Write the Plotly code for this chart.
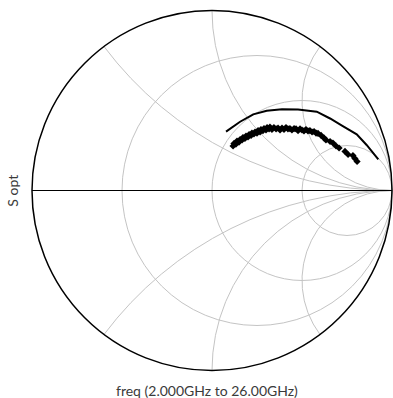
import numpy as np
import plotly.graph_objects as go

# Optimum source reflection coefficient (Sopt), measured, 2-26 GHz
meas_re = [0.117, 0.122, 0.133, 0.139, 0.150, 0.156, 0.167, 0.172, 0.183, 0.189,
           0.200, 0.206, 0.217, 0.222, 0.233, 0.239, 0.250, 0.256, 0.267, 0.272,
           0.283, 0.289, 0.300, 0.306, 0.317, 0.322, 0.333,
           0.344, 0.356, 0.367, 0.378, 0.389, 0.400, 0.411, 0.422, 0.433, 0.444,
           0.456, 0.467, 0.478, 0.489, 0.500, 0.511, 0.522, 0.533, 0.544, 0.556,
           0.567, 0.578,
           0.589, 0.606, 0.622, 0.633, 0.656, 0.672, 0.689, 0.706, 0.739, 0.756,
           0.783, 0.794, 0.806]
meas_im = [0.247, 0.261, 0.258, 0.275, 0.269, 0.283, 0.281, 0.294, 0.289, 0.303,
           0.297, 0.311, 0.306, 0.319, 0.314, 0.325, 0.319, 0.333, 0.325, 0.339,
           0.333, 0.344, 0.336, 0.350, 0.342, 0.353, 0.339,
           0.350, 0.342, 0.347, 0.336, 0.347, 0.339, 0.350, 0.342, 0.344, 0.336,
           0.344, 0.342, 0.333, 0.342, 0.336, 0.331, 0.339, 0.331, 0.333, 0.325,
           0.328, 0.319,
           0.317, 0.306, 0.292, 0.281, 0.272, 0.264, 0.247, 0.236, 0.217, 0.200,
           0.194, 0.178, 0.161]

# Optimum source reflection coefficient, model
model_re = [0.078, 0.156, 0.229, 0.304, 0.389, 0.478, 0.582, 0.656, 0.722, 0.804, 0.859, 0.924]
model_im = [0.327, 0.382, 0.423, 0.443, 0.451, 0.450, 0.438, 0.400, 0.361, 0.312, 0.253, 0.173]

# Smith chart grid values (the 1000 entries carry the arcs/circles out to the edge)
resistance_grid = [1 / 3, 1, 3, 1000]
reactance_grid = [-1000, -2, -1, -0.5, 0.5, 1, 2, 1000]


def to_impedance(re, im):
    g = np.array(re) + 1j * np.array(im)
    return (1 + g) / (1 - g)


z_meas = to_impedance(meas_re, meas_im)
z_model = to_impedance(model_re, model_im)

fig = go.Figure()
fig.add_trace(go.Scattersmith(
    real=z_model.real, imag=z_model.imag, mode="lines",
    line=dict(color="black", width=2), showlegend=False, hoverinfo="skip"))
fig.add_trace(go.Scattersmith(
    real=z_meas.real, imag=z_meas.imag, mode="markers",
    marker=dict(color="black", size=5.5, symbol="diamond"), showlegend=False))

grid_color = "#c4c4c4"
fig.update_layout(
    width=393, height=398,
    margin=dict(l=32, r=1, t=10, b=27),
    paper_bgcolor="white",
    smith=dict(
        bgcolor="white",
        domain=dict(x=[0, 1], y=[0, 1]),
        realaxis=dict(tickvals=resistance_grid, showticklabels=False, ticks="",
                      gridcolor=grid_color, gridwidth=1,
                      showline=True, linecolor="black", linewidth=1),
        imaginaryaxis=dict(tickvals=reactance_grid, showticklabels=False, ticks="",
                           gridcolor=grid_color, gridwidth=1,
                           showline=True, linecolor="black", linewidth=1.5),
    ),
    annotations=[
        dict(text="freq (2.000GHz to 26.00GHz)", xref="paper", yref="paper",
             x=0.486, y=-0.025, xanchor="center", yanchor="top", showarrow=False,
             font=dict(family="Lato", size=14, color="#3a3a3a")),
        dict(text="S opt", xref="paper", yref="paper", textangle=-90,
             x=-0.055, y=0.5, xanchor="center", yanchor="middle", showarrow=False,
             font=dict(family="Lato", size=14, color="#3a3a3a")),
    ],
)

fig.write_html("out.html")
